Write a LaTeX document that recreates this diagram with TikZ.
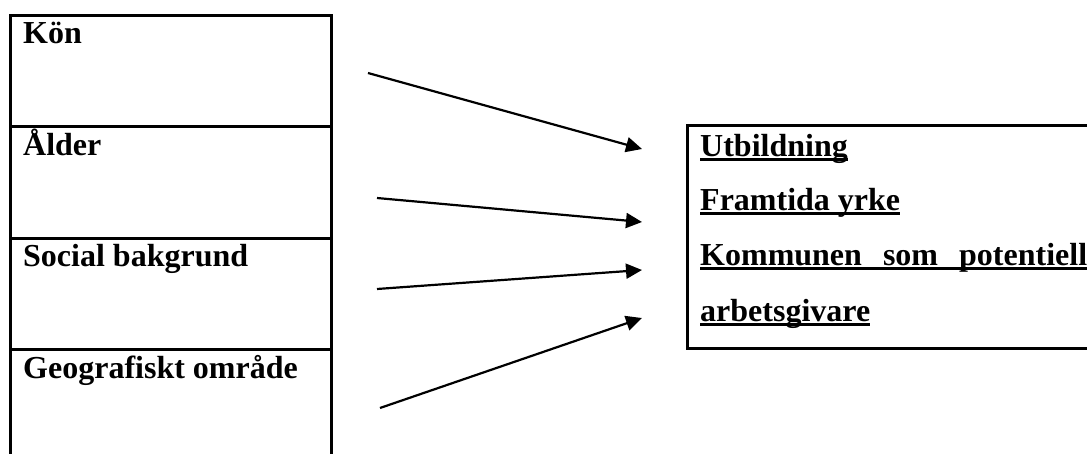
\documentclass[tikz,border=0pt]{standalone}
\usepackage{fontspec}
\setmainfont{Liberation Serif}
\usetikzlibrary{arrows.meta}
\begin{document}
\begin{tikzpicture}[x=1pt,y=-1pt,
  frame/.style={draw=black,line width=2.6pt,rectangle,inner sep=0pt,anchor=north west},
  lbl/.style={anchor=base west,inner sep=0pt,font=\fontsize{32}{38}\selectfont\bfseries},
  arr/.style={line width=2.2pt,-{Triangle[length=16pt,width=15pt]}},
  ul/.style={line width=3pt}]
\useasboundingbox (0,0) rectangle (1087,454);
% left column of cells
\node[frame,minimum width=321pt,minimum height=111pt] (c1) at (9,14) {};
\node[frame,minimum width=321pt,minimum height=112pt] (c2) at (9,125) {};
\node[frame,minimum width=321pt,minimum height=111pt] (c3) at (9,237) {};
\node[frame,minimum width=321pt,minimum height=130pt] (c4) at (9,348) {};
\node[lbl] (t1) at (23,44) {Kön};
\node[lbl] (t2) at (23,156) {Ålder};
\node[lbl] (t3) at (23,267) {Social bakgrund};
\node[lbl] (t4) at (23,378) {Geografiskt område};
% right box
\node[frame,minimum width=420pt,minimum height=223pt] (out) at (686,124) {};
\node[lbl] (r1) at (700,157) {Utbildning};
\node[lbl] (r2) at (700,211) {Framtida yrke};
\node[lbl] (r3) at (700,266) {\makebox[387pt][s]{Kommunen som potentiell}};
\node[lbl] (r4) at (700,322) {arbetsgivare};
\foreach \n in {r1,r2,r3,r4}
  \draw[ul] ([yshift=-3pt]\n.base west) -- ([yshift=-3pt]\n.base east);
% arrows
\coordinate (a1s) at (368,73);  \coordinate (a1e) at (642,149);
\coordinate (a2s) at (377,198); \coordinate (a2e) at (642,222);
\coordinate (a3s) at (377,289); \coordinate (a3e) at (642,270);
\coordinate (a4s) at (380,408); \coordinate (a4e) at (642,318);
\draw[arr] (a1s) -- (a1e);
\draw[arr] (a2s) -- (a2e);
\draw[arr] (a3s) -- (a3e);
\draw[arr] (a4s) -- (a4e);
\end{tikzpicture}
\end{document}
